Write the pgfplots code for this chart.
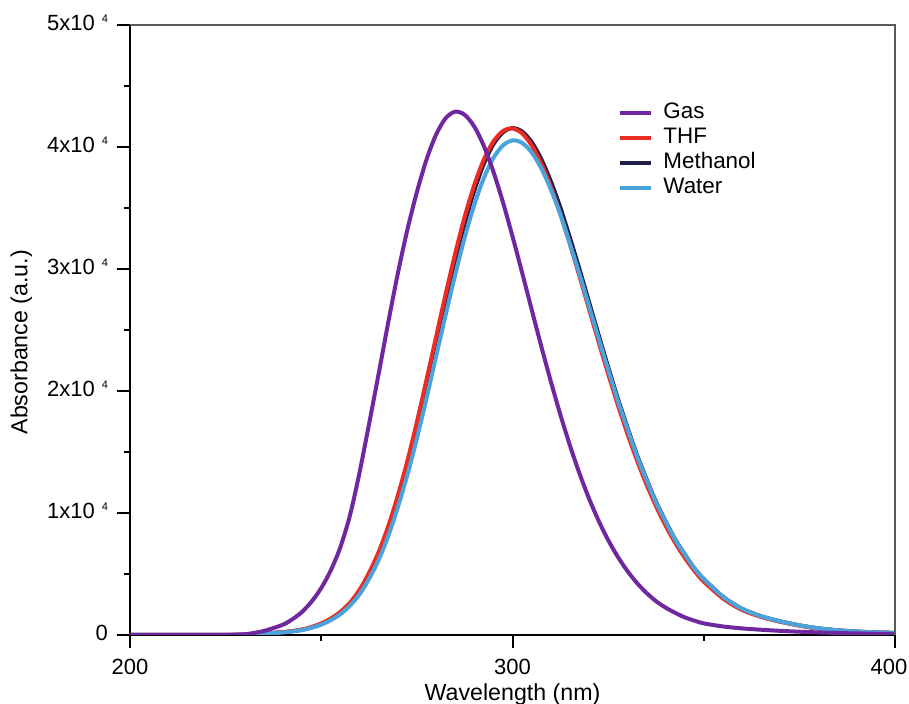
\documentclass[border=0pt]{standalone}
\usepackage{fontspec}
\setmainfont{Liberation Sans}
\usepackage{pgfplots}
\pgfplotsset{compat=1.18}
\usepackage{pgfplotstable}

\definecolor{gascol}{RGB}{112,40,160}
\definecolor{thfcol}{RGB}{236,44,36}
\definecolor{meohcol}{RGB}{30,30,70}
\definecolor{watcol}{RGB}{74,163,218}

% tick label of the form 5x10 ^4
\newcommand{\tenk}[1]{#1x10\hspace{3.5pt}\raisebox{4pt}{\fontsize{5.5}{6}\selectfont 4}}

% absorbance spectra, wavelength in nm
\pgfplotstableread{
lambda gas   thf   meoh  water
200    0     0     0     0
210    0     0     0     0
220    5     0     0     0
225    15    5     5     5
230    60    40    35    30
235    330   120   110   100
240    850   240   225   210
242.5  1300  330   311   294
245    1900  450   425   407
247.5  2750  660   624   594
250    3850  950   900   851
252.5  5300  1350  1282  1212
255    7200  1900  1800  1710
257.5  9800  2650  2520  2400
260    13300 3700  3526  3337
262.5  17300 5100  4870  4600
265    21400 6800  6500  6150
267.5  25600 8900  8530  8100
270    29600 11400 10969 10445
272.5  33200 14250 13740 13110
275    36300 17450 16880 16100
277.5  38950 20900 20254 19375
280    41000 24407 23766 22804
282.5  42350 27910 27256 26200
285    42895 31243 30629 29513
287.5  42637 34279 33729 32575
290    41677 36874 36417 35251
292.5  40091 38963 38611 37452
295    37983 40450 40221 39095
297.5  35475 41306 41205 40129
300    32673 41522 41550 40541
302.5  29717 41117 41268 40340
305    26692 40139 40404 39562
307.5  23694 38656 39019 38270
310    20807 36753 37197 36540
312.5  18075 34515 35046 34493
315    15551 32040 32566 32070
317.5  13252 29411 29994 29596
320    11193 26720 27298 26960
322.5  9378  24033 24606 24336
325    7791  21409 21977 21770
327.5  6426  18900 19420 19246
330    5260  16537 17053 16940
332.5  4277  14353 14795 14691
335    3457  12363 12802 12740
337.5  2776  10573 10930 10870
340    2250  8979  9333  9310
342.5  1820  7571  7847  7817
345    1450  6346  6620  6620
347.5  1180  5283  5489  5474
350    950   4381  4586  4590
355    700   3000  3144  3150
360    540   2050  2149  2150
365    430   1480  1540  1540
370    340   1080  1120  1120
375    270   760   792   790
380    210   520   544   550
385    160   370   385   385
390    130   270   280   280
395    100   210   216   215
400    80    170   174   175
}\spectra

\begin{document}
\begin{tikzpicture}
\begin{axis}[
  name=ax,
  scale only axis,
  width=382.5pt, height=305pt,
  xmin=200, xmax=400, ymin=0, ymax=50000,
  axis x line*=bottom, axis y line*=left,
  x axis line style={line width=1pt},
  y axis line style={line width=1.4pt},
  xtick={200,300,400}, xticklabels={200,300,{400\rule{6pt}{0pt}}},
  minor x tick num=1,
  scaled y ticks=false,
  ytick={0,10000,20000,30000,40000,50000},
  yticklabels={0,\tenk{1},\tenk{2},\tenk{3},\tenk{4},\tenk{5}},
  minor y tick num=1,
  tick align=outside,
  major tick length=6.5pt, minor tick length=3pt,
  tick style={black, line width=1pt},
  tick label style={font=\fontsize{11}{13}\selectfont},
  xticklabel style={yshift=-2pt},
  yticklabel style={anchor=base east, yshift=-2.8pt, xshift=-1pt},
  xlabel={Wavelength (nm)},
  ylabel={Absorbance (a.u.)},
  label style={font=\fontsize{11.6}{13}\selectfont},
  xlabel style={at={(axis description cs:0.5,0)}, anchor=north, yshift=-21pt},
  ylabel style={at={(axis description cs:-0.142,0.48)}, anchor=center},
  legend style={at={(axis description cs:0.638,0.875)}, anchor=north west,
    draw=none, fill=none, inner sep=0pt, row sep=1pt, column sep=4.5pt,
    font=\fontsize{11.2}{13}\selectfont,
    nodes={inner sep=0.5pt, text height=8pt, text depth=2.5pt}},
  legend cell align=left,
  legend image code/.code={\draw[#1] (0pt,0pt) -- (15.5pt,0pt);},
  every axis plot/.append style={line width=2pt, smooth},
]
\addlegendimage{gascol, line width=2pt}
\addlegendimage{thfcol, line width=2pt}
\addlegendimage{meohcol, line width=2pt}
\addlegendimage{watcol, line width=2pt}
\legend{Gas,THF,Methanol,Water}

\addplot[meohcol, forget plot] table[x=lambda, y=meoh] {\spectra};
\addplot[thfcol, forget plot] table[x=lambda, y=thf] {\spectra};
\addplot[watcol, forget plot] table[x=lambda, y=water] {\spectra};
\addplot[gascol, forget plot] table[x=lambda, y=gas] {\spectra};
\end{axis}
\draw[line width=1pt, black!65] (ax.north west) -- (ax.north east) -- (ax.south east);
\pgfresetboundingbox
\path ([xshift=-65pt,yshift=-34.5pt]ax.south west) rectangle ([xshift=7pt,yshift=12.5pt]ax.north east);
\end{tikzpicture}
\end{document}
